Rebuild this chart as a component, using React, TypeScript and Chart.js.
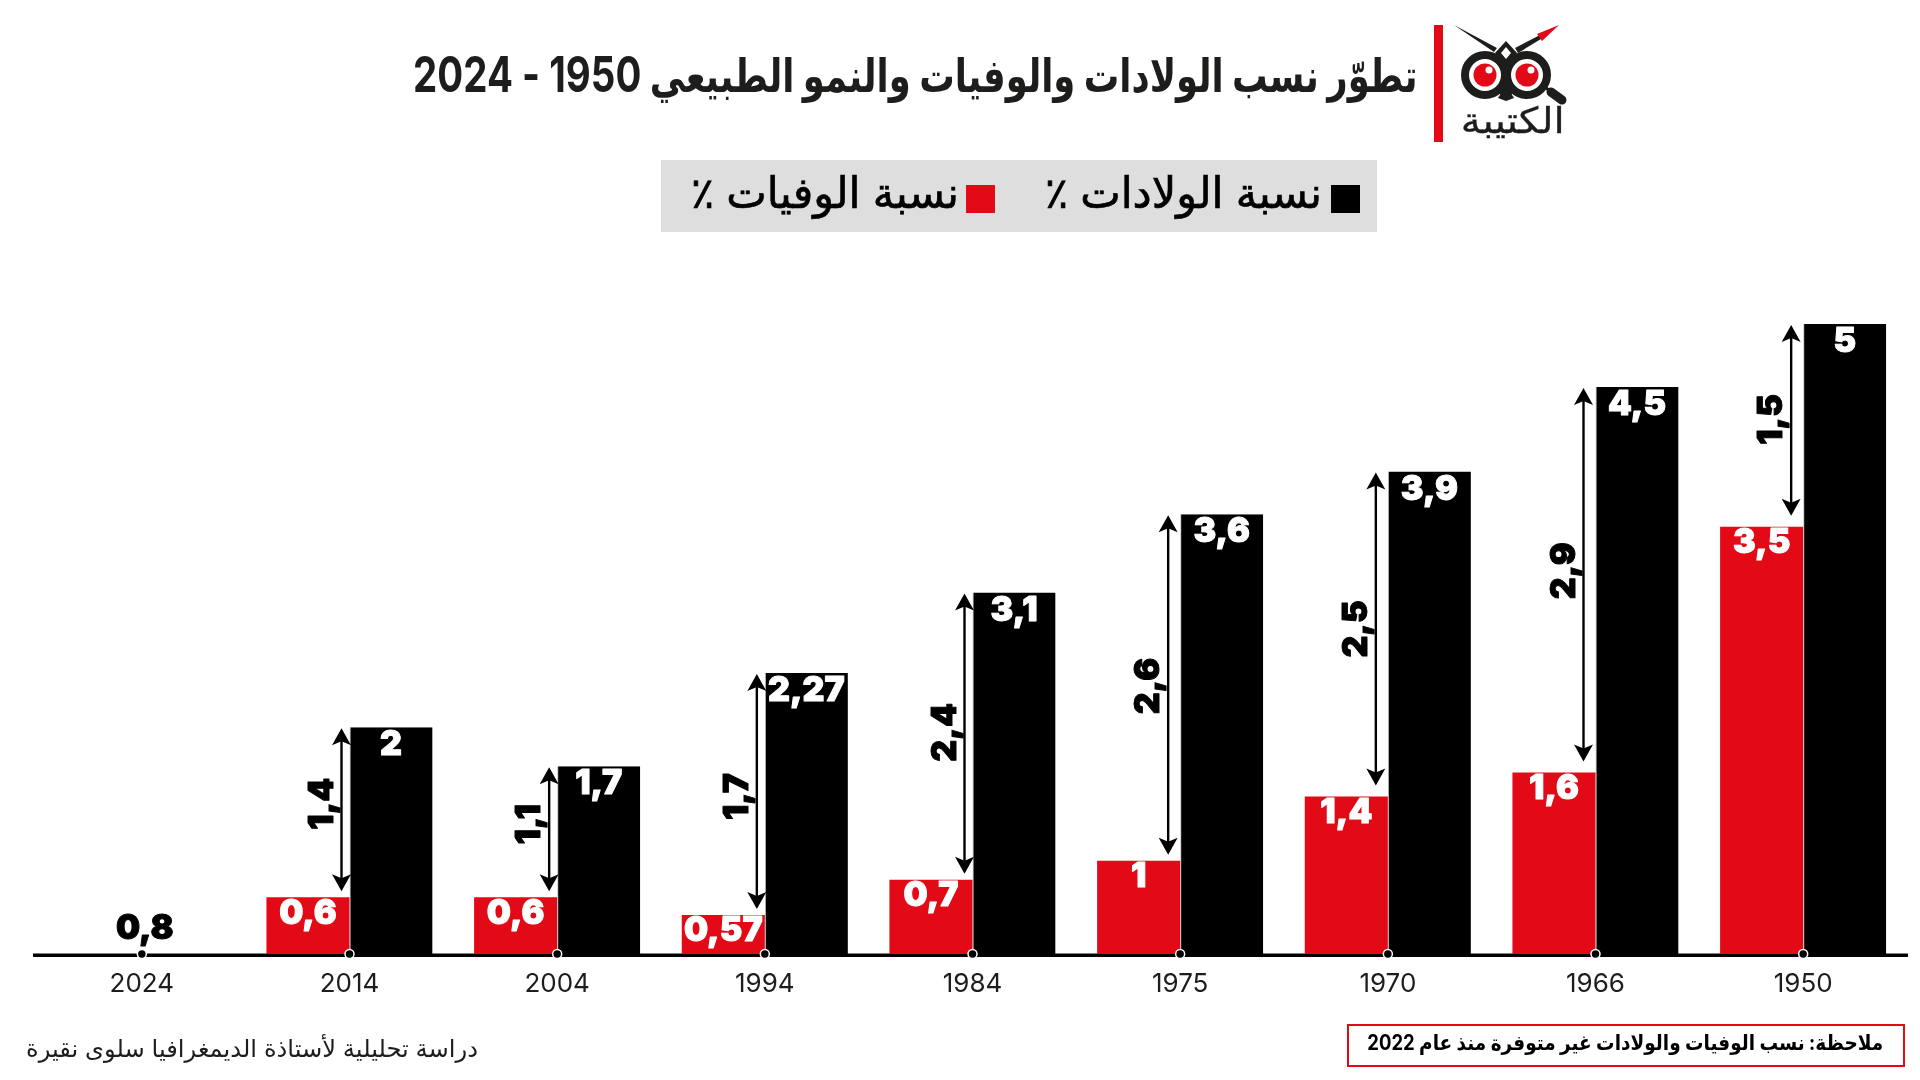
import React, { useEffect, useRef } from "react";
import { Chart, registerables } from "chart.js";

Chart.register(...registerables);

const years = ["2024", "2014", "2004", "1994", "1984", "1975", "1970", "1966", "1950"];
// Bar heights as they are drawn in the picture (the picture is not to a strict linear scale)
const birthHeights = [null, 1.80, 1.49, 2.23, 2.87, 3.49, 3.83, 4.50, 5.0];
const deathHeights = [null, 0.45, 0.45, 0.31, 0.59, 0.74, 1.25, 1.44, 3.39];
// Values printed in the picture
const birthLabels = ["", "2", "1,7", "2,27", "3,1", "3,6", "3,9", "4,5", "5"];
const deathLabels = ["", "0,6", "0,6", "0,57", "0,7", "1", "1,4", "1,6", "3,5"];
const gapLabels = ["", "1,4", "1,1", "1,7", "2,4", "2,6", "2,5", "2,9", "1,5"];
const growthLabel2024 = "0,8";
const axisDots = [0, 0, 0, 0, 0, 0, 0, 0, 0];
// small vertical adjustments of the rotated labels
const gapLabelNudge = [0, -6, -5, 5, -1, 1, 0, -4, -1];

const titleWords = "تطوّر نسب الولادات والوفيات والنمو الطبيعي ";
const titleYears = "1950 - 2024";
const birthLegend = "نسبة الولادات ٪";
const deathLegend = "نسبة الوفيات ٪";
const sourceText = "دراسة تحليلية لأستاذة الديمغرافيا سلوى نقيرة";
const noteText = "ملاحظة: نسب الوفيات والولادات غير متوفرة منذ عام 2022";
const logoText = "الكتيبة";

const RED = "#E10A16";
const DARK = "#1d1d1b";
const FONT = 'Inter, "DejaVu Sans", sans-serif';
const ARFONT = 'Inter, "DejaVu Sans", sans-serif';

const basePlugin = {
  id: "baseLine",
  beforeDatasetsDraw(chart: any) {
    const { ctx, chartArea } = chart;
    ctx.save();
    ctx.fillStyle = "#000";
    ctx.fillRect(chartArea.left - 5, chartArea.bottom - 0.5, chartArea.width + 6, 3.5);
    ctx.restore();
  },
};

const heavyText = (ctx: any, text: string, x: number, y: number, color: string) => {
  ctx.fillStyle = color;
  ctx.strokeStyle = color;
  ctx.lineWidth = 1;
  ctx.lineJoin = "round";
  ctx.strokeText(text, x, y);
  ctx.fillText(text, x, y);
};

const overlayPlugin = {
  id: "overlay",
  afterDatasetsDraw(chart: any) {
    const { ctx, chartArea } = chart;
    const deaths = chart.getDatasetMeta(0).data;
    const births = chart.getDatasetMeta(1).data;
    const dots = chart.getDatasetMeta(2).data;
    ctx.save();
    ctx.textAlign = "center";
    ctx.textBaseline = "middle";
    ctx.font = `900 34px ${FONT}`;
    years.forEach((_, i) => {
      const b = births[i];
      const d = deaths[i];
      if (birthHeights[i] == null || deathHeights[i] == null) return;
      heavyText(ctx, birthLabels[i], b.x, b.y + 18, "#fff");
      heavyText(ctx, deathLabels[i], d.x, d.y + 16, "#fff");
      // double-headed arrow between the two bar tops
      const x = (b.x + d.x) / 2 - (i >= 5 ? 12 : 8);
      const top = b.y + 1;
      const bottom = d.y - (i >= 6 ? 11 : 6);
      ctx.strokeStyle = "#000";
      ctx.lineWidth = 2.4;
      ctx.beginPath();
      ctx.moveTo(x, top + 8);
      ctx.lineTo(x, bottom - 8);
      ctx.stroke();
      ctx.fillStyle = "#000";
      ctx.beginPath();
      ctx.moveTo(x, top);
      ctx.lineTo(x + 9.5, top + 17);
      ctx.lineTo(x, top + 13);
      ctx.lineTo(x - 9.5, top + 17);
      ctx.closePath();
      ctx.fill();
      ctx.beginPath();
      ctx.moveTo(x, bottom);
      ctx.lineTo(x + 9.5, bottom - 17);
      ctx.lineTo(x, bottom - 13);
      ctx.lineTo(x - 9.5, bottom - 17);
      ctx.closePath();
      ctx.fill();
      // rotated gap label
      ctx.save();
      ctx.translate(x - 19, (top + bottom) / 2 + gapLabelNudge[i]);
      ctx.rotate(-Math.PI / 2);
      heavyText(ctx, gapLabels[i], 0, 0, "#000");
      ctx.restore();
    });
    heavyText(ctx, growthLabel2024, dots[0].x + 3, chartArea.bottom - 25, "#000");
    ctx.restore();
  },
};

function Logo() {
  return (
    <svg width={1920} height={1080} style={{ position: "absolute", left: 0, top: 0 }}>
      <rect x={1434} y={25} width={9} height={117} fill={RED} />
      <polygon points="1454,25 1497,48 1494,52" fill={DARK} />
      <polygon points="1515,48 1540,35 1541,39 1518,53" fill={DARK} />
      <polygon points="1559,25 1537,34 1542,41" fill={RED} />
      <polygon points="1506,41 1517,53 1506,65 1495,53" fill={DARK} />
      <polygon points="1506,47 1511,53 1506,59 1501,53" fill="#fff" />
      <polygon points="1506,85 1514,98 1506,101 1498,98" fill={DARK} />
      <rect x={1497} y={60} width={18} height={34} fill={DARK} />
      <circle cx={1485} cy={75} r={20} fill="#fff" stroke={DARK} strokeWidth={8} />
      <circle cx={1527} cy={75} r={20} fill="#fff" stroke={DARK} strokeWidth={8} />
      <circle cx={1485} cy={75} r={11.5} fill={RED} />
      <circle cx={1527} cy={75} r={11.5} fill={RED} />
      <circle cx={1489} cy={70} r={3.5} fill="#fff" />
      <circle cx={1531} cy={70} r={3.5} fill="#fff" />
      <line x1={1545} y1={87} x2={1551} y2={92} stroke={DARK} strokeWidth={3} />
      <line x1={1551} y1={92} x2={1562} y2={100} stroke={DARK} strokeWidth={9} strokeLinecap="round" />
    </svg>
  );
}

const abs = (style: React.CSSProperties): React.CSSProperties => ({
  position: "absolute",
  whiteSpace: "nowrap",
  direction: "rtl",
  fontFamily: ARFONT,
  color: DARK,
  transformOrigin: "right center",
  ...style,
});

export default function App() {
  const ref = useRef<HTMLCanvasElement | null>(null);
  useEffect(() => {
    document.body.style.margin = "0";
    document.body.style.background = "#fff";
    const chart = new Chart(ref.current as HTMLCanvasElement, {
      type: "bar",
      data: {
        labels: years,
        datasets: [
          { label: deathLegend, data: deathHeights, backgroundColor: RED, order: 2 },
          {
            label: birthLegend,
            data: birthHeights,
            backgroundColor: "#000",
            borderColor: "#c4c4c4",
            borderWidth: { left: 1, right: 0, top: 0, bottom: 0 },
            borderSkipped: false,
            order: 2,
          },
          {
            type: "line",
            label: "axis",
            data: axisDots,
            showLine: false,
            pointRadius: 4.5,
            pointBorderWidth: 1.5,
            pointBackgroundColor: "#000",
            pointBorderColor: "#fff",
            clip: false,
            order: 1,
          } as any,
        ],
      } as any,
      options: {
        responsive: false,
        animation: false,
        devicePixelRatio: 1,
        datasets: { bar: { barPercentage: 1, categoryPercentage: 0.8 } },
        layout: { padding: { left: 38, right: 13, top: 324, bottom: 65 } },
        plugins: { legend: { display: false }, tooltip: { enabled: false } },
        scales: {
          y: { display: false, min: 0, max: 5 },
          x: {
            afterFit: (s: any) => { s.height = 61; },
            grid: { display: false, drawTicks: false },
            border: { display: false },
            ticks: { color: DARK, font: { family: "Inter", size: 26 }, padding: 15, maxRotation: 0 },
          },
        },
      } as any,
      plugins: [basePlugin, overlayPlugin],
    });
    return () => chart.destroy();
  }, []);

  return (
    <div style={{ position: "absolute", left: 0, top: 0, width: 1920, height: 1080, background: "#fff", overflow: "hidden" }}>
      <canvas ref={ref} width={1920} height={1080} style={{ display: "block", position: "absolute", left: 0, top: 0 }} />
      <Logo />
      <div style={abs({ right: 355, top: 98, fontSize: 36, transform: "scaleX(1.12)", WebkitTextStroke: "0.3px #1d1d1b" })}>{logoText}</div>
      <div style={abs({ right: 502, top: 44, fontSize: 46, fontWeight: 700, transform: "scaleX(0.77)" })}>
        {titleWords}
        <span style={{ fontSize: 50 }}>{titleYears}</span>
      </div>
      <div style={{ position: "absolute", left: 661, top: 160, width: 716, height: 72, background: "#DEDEDE" }} />
      <div style={{ position: "absolute", left: 1331, top: 185, width: 29, height: 28, background: "#000" }} />
      <div style={{ position: "absolute", left: 966, top: 185, width: 29, height: 28, background: RED }} />
      <div style={abs({ right: 598, top: 166, fontSize: 43, color: "#000", WebkitTextStroke: "0.7px #000" })}>{birthLegend}</div>
      <div style={abs({ right: 961, top: 166, fontSize: 43, color: "#000", WebkitTextStroke: "0.7px #000" })}>{deathLegend}</div>
      <div style={abs({ right: 1442, top: 1034, fontSize: 24.2 })}>{sourceText}</div>
      <div style={{ position: "absolute", left: 1347, top: 1024, width: 554, height: 39, border: `2px solid ${RED}`, boxSizing: "content-box" }} />
      <div style={abs({ right: 37, top: 1030, fontSize: 21, fontWeight: 700, color: "#000", transform: "scaleX(0.88)" })}>{noteText}</div>
    </div>
  );
}
